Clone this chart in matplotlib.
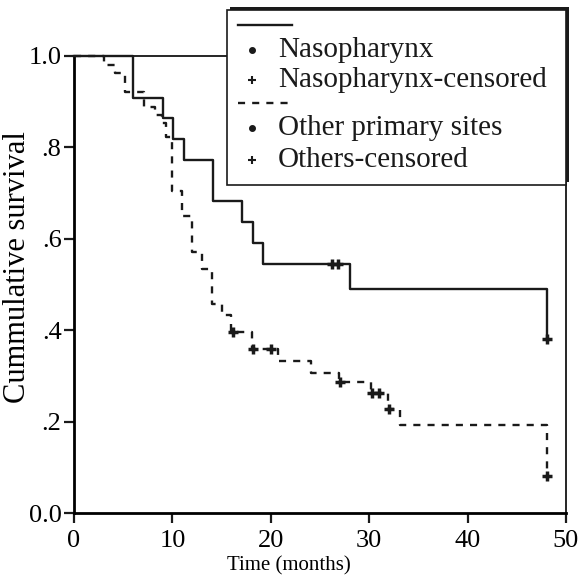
import matplotlib
matplotlib.use("Agg")
import matplotlib.pyplot as plt
from matplotlib.lines import Line2D
from matplotlib.patches import Rectangle

plt.rcParams['font.family'] = ['Liberation Serif', 'DejaVu Serif']

# Kaplan-Meier steps
naso_times = [0, 6.0, 9.0, 10.1, 11.2, 14.1, 17.1, 18.2, 19.2, 28.0, 48.1]
naso_surv = [1.0, 0.909, 0.864, 0.818, 0.773, 0.682, 0.636, 0.591, 0.545, 0.491, 0.38]
naso_cens_times = [26.2, 26.8, 48.1]
naso_cens_surv = [0.545, 0.545, 0.38]

other_times = [0, 3.0, 4.2, 5.2, 7.1, 8.2, 8.9, 9.3, 10.0, 11.0, 12.0, 13.0,
               14.0, 15.0, 16.0, 18.1, 20.7, 24.1, 26.9, 30.2, 31.9, 33.1, 48.1]
other_surv = [1.0, 0.98, 0.963, 0.921, 0.888, 0.871, 0.853, 0.823, 0.705, 0.650,
              0.571, 0.534, 0.457, 0.433, 0.396, 0.359, 0.333, 0.306, 0.287,
              0.262, 0.228, 0.193, 0.08]
other_cens_times = [16.2, 18.2, 20.0, 27.0, 30.3, 31.0, 32.0, 48.1]
other_cens_surv = [0.396, 0.359, 0.359, 0.287, 0.262, 0.262, 0.228, 0.08]

legend_labels = ['Nasopharynx', 'Nasopharynx-censored',
                 'Other primary sites', 'Others-censored']

x_ticks = [0, 10, 20, 30, 40, 50]
y_ticks = [0.0, 0.2, 0.4, 0.6, 0.8, 1.0]
y_tick_labels = ['0.0', '.2', '.4', '.6', '.8', '1.0']

fig = plt.figure(figsize=(5.78, 5.81), dpi=100)
ax = fig.add_axes([74 / 578, 1 - 513 / 581, 492 / 578, 457 / 581])

lw = 1.7
ax.step(naso_times, naso_surv, where='post', color='#1a1a1a', lw=lw,
        clip_on=False, zorder=3)
ax.step(other_times, other_surv, where='post', color='#1a1a1a', lw=lw,
        linestyle=(0, (3, 3)), clip_on=False, zorder=3)
ax.plot(naso_cens_times, naso_cens_surv, '+', color='#1a1a1a', ms=7, mew=2.5,
        clip_on=False, zorder=4)
ax.plot(other_cens_times, other_cens_surv, '+', color='#1a1a1a', ms=7, mew=2.5,
        clip_on=False, zorder=4)

ax.set_xlim(0, 50)
ax.set_ylim(0, 1.0)
ax.set_xticks(x_ticks)
ax.set_yticks(y_ticks)
ax.set_yticklabels(y_tick_labels)
ax.tick_params(direction='out', length=7, width=1.6, labelsize=19,
               color='#1a1a1a')
ax.tick_params(axis='x', pad=5)
ax.tick_params(axis='y', pad=2)
for s in ['left', 'bottom']:
    ax.spines[s].set_linewidth(2.0)
for s in ['top', 'right']:
    ax.spines[s].set_linewidth(1.2)

ax.set_xlabel('Time (months)', fontsize=15)
ax.xaxis.set_label_coords(0.437, -0.095)
ax.set_ylabel('Cummulative survival', fontsize=22)
ax.yaxis.set_label_coords(-0.085, 0.538)

# hand-made legend box (sits over the top-right of the frame)
def fx(px):
    return (px - 74) / 492


def fy(py):
    return (513 - py) / 457


box_l, box_r, box_t, box_b = fx(227), fx(566), fy(10), fy(185)
shadow = Rectangle((box_l + 0.006, box_b + 0.006), box_r - box_l, box_t - box_b,
                   transform=ax.transAxes, facecolor='#1a1a1a', edgecolor='none',
                   clip_on=False, zorder=9)
frame = Rectangle((box_l, box_b), box_r - box_l, box_t - box_b,
                  transform=ax.transAxes, facecolor='white', edgecolor='#1a1a1a',
                  lw=1.2, clip_on=False, zorder=10)
ax.add_patch(shadow)
ax.add_patch(frame)

line_x = [fx(238), fx(292)]
ax.add_line(Line2D(line_x, [fy(25)] * 2, color='#1a1a1a', lw=lw,
                   transform=ax.transAxes, clip_on=False, zorder=11))
ax.add_line(Line2D(line_x, [fy(103)] * 2, color='#1a1a1a', lw=lw,
                   linestyle=(0, (3, 3)), transform=ax.transAxes,
                   clip_on=False, zorder=11))

row_y = [fy(50), fy(80), fy(128), fy(160)]
row_marker = ['o', '+', 'o', '+']
for label, yy, mk in zip(legend_labels, row_y, row_marker):
    ax.plot([fx(252)], [yy], mk, color='#1a1a1a', ms=3.5 if mk == 'o' else 6,
            mew=1.5, transform=ax.transAxes, clip_on=False, zorder=11)
    ax.text(fx(278), yy, label, fontsize=21, va='center', ha='left',
            transform=ax.transAxes, zorder=11, color='#1a1a1a')

fig.savefig('out.png', dpi=100)
